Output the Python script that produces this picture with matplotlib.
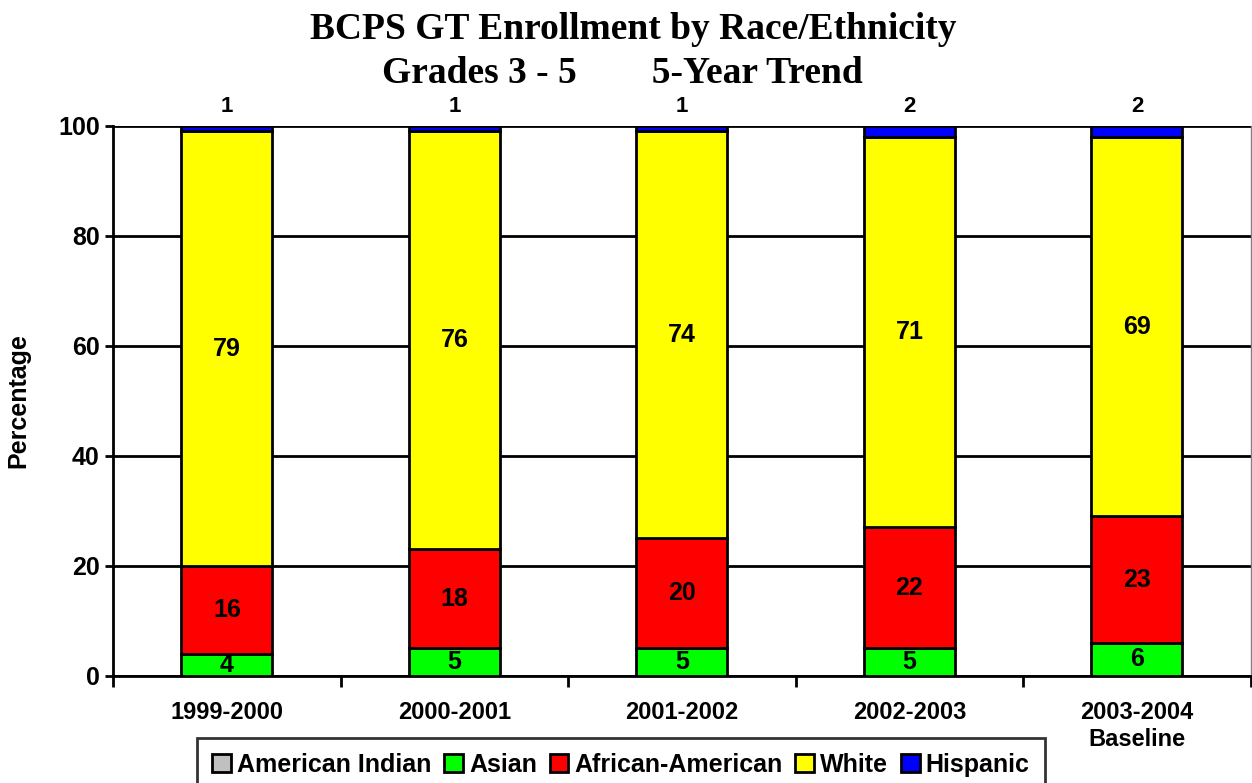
import numpy as np
import matplotlib.pyplot as plt

years = ['1999-2000', '2000-2001', '2001-2002', '2002-2003', '2003-2004\nBaseline']
american_indian = [0, 0, 0, 0, 0]
asian = [4, 5, 5, 5, 6]
african_american = [16, 18, 20, 22, 23]
white = [79, 76, 74, 71, 69]
hispanic = [1, 1, 1, 2, 2]

series = [
    ('American Indian', american_indian, '#c0c0c0'),
    ('Asian', asian, '#00ff00'),
    ('African-American', african_american, '#ff0000'),
    ('White', white, '#ffff00'),
    ('Hispanic', hispanic, '#0000ff'),
]

plt.rcParams['font.family'] = ['Liberation Sans', 'DejaVu Sans']
plt.rcParams['font.weight'] = 'bold'

fig = plt.figure(figsize=(12.52, 7.83), dpi=100)
ax = fig.add_axes([0.0903, 0.1367, 0.9087, 0.7024])

x = np.arange(len(years))
bottom = np.zeros(len(years))
handles = []
for name, vals, color in series:
    vals = np.array(vals, dtype=float)
    b = ax.bar(x, vals, 0.4, bottom=bottom, color=color, edgecolor='black',
               linewidth=2, label=name, zorder=3)
    handles.append(b)
    if name == 'Hispanic':
        # small segments get their value above the bar
        for xi, top, v in zip(x, bottom + vals, vals):
            ax.text(xi, top + 3.5, f'{int(v)}', ha='center', va='center',
                    fontsize=16, fontweight='bold')
    elif name != 'American Indian':
        for xi, bt, v in zip(x, bottom, vals):
            ax.text(xi, bt + v / 2, f'{int(v)}', ha='center', va='center',
                    fontsize=18, fontweight='bold', zorder=4)
    bottom += vals

ax.set_xlim(-0.5, len(years) - 0.5)
ax.set_ylim(0, 100)
ax.set_yticks([0, 20, 40, 60, 80, 100])
ax.yaxis.grid(True, color='black', linewidth=2, zorder=1)
ax.tick_params(axis='y', labelsize=18, width=2, length=6, direction='out')

ax.set_xticks(x)
ax.set_xticklabels(years, fontsize=17, fontweight='bold')
ax.set_xticks(np.arange(-0.5, len(years)), minor=True)
ax.tick_params(axis='x', which='major', length=0, pad=18)
ax.tick_params(axis='x', which='minor', length=8, width=2, direction='out')

ax.spines['top'].set_visible(False)
ax.spines['left'].set_linewidth(2)
ax.spines['bottom'].set_linewidth(2)
ax.spines['right'].set_color('#808080')
ax.spines['right'].set_linewidth(1)

ax.set_ylabel('Percentage', fontsize=18, fontweight='bold', labelpad=20)

fig.text(0.506, 0.962, 'BCPS GT Enrollment by Race/Ethnicity', ha='center', va='center',
         fontsize=27, fontweight='bold', family='Liberation Serif')
fig.text(0.497, 0.906, 'Grades 3 - 5        5-Year Trend', ha='center', va='center',
         fontsize=27, fontweight='bold', family='Liberation Serif')

leg = fig.legend(handles=handles, loc='upper center', bbox_to_anchor=(0.496, 0.0575),
                 ncol=5, fontsize=18, frameon=True, fancybox=False, edgecolor='black',
                 handlelength=0.75, handleheight=0.75, handletextpad=0.25, columnspacing=0.5,
                 borderpad=0.6, borderaxespad=0)
leg.get_frame().set_linewidth(2)

fig.savefig('out.png', dpi=100)
